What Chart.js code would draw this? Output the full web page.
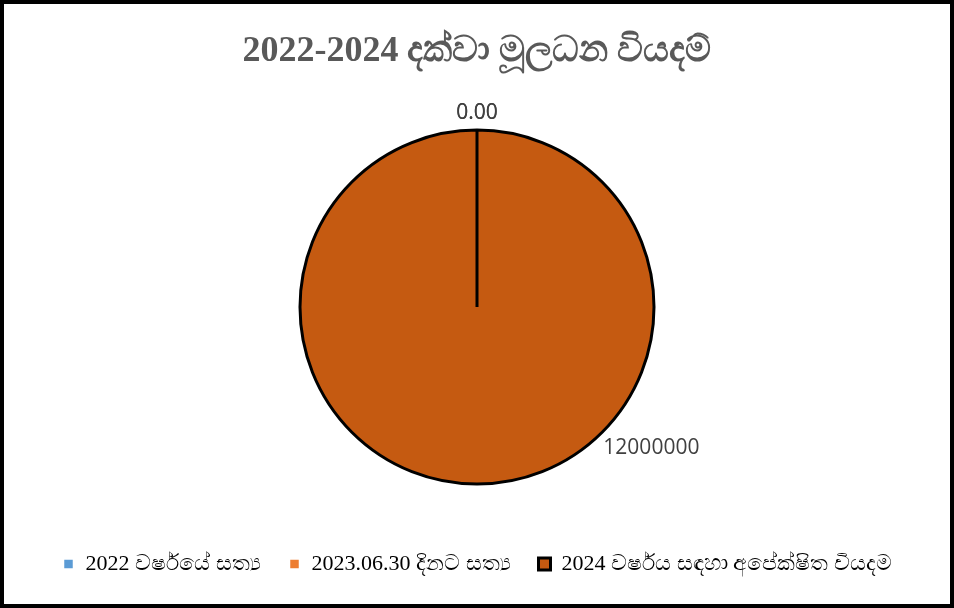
<!DOCTYPE html>
<html>
<head>
<meta charset="utf-8">
<script src="https://cdn.jsdelivr.net/npm/chart.js@4/dist/chart.umd.min.js"></script>
<style>
  html, body { margin: 0; padding: 0; background: #fff; }
  #frame {
    width: 954px; height: 608px; box-sizing: border-box;
    border: 4px solid #000; background: #fff;
  }
  #wrap { position: relative; width: 946px; height: 600px; }
</style>
</head>
<body>
<div id="frame"><div id="wrap"><canvas id="pie"></canvas></div></div>
<script>
const titleText = "2022-2024 දක්වා මූලධන වියදම්";
const categories = [
  "2022 වර්ෂයේ සත්‍ය",
  "2023.06.30 දිනට සත්‍ය",
  "2024 වර්ෂය සඳහා අපේක්ෂිත වියදම"
];
const values = [0, 0, 12000000];
const sliceColors = ["#5B9BD5", "#ED7D31", "#C55A11"];

// excel shows the zero values as 0.00, the big one as a plain integer
const formatValue = v => (v === 0 ? v.toFixed(2) : String(v));

const valueLabels = {
  id: "valueLabels",
  afterDatasetsDraw(chart) {
    const ctx = chart.ctx;
    const meta = chart.getDatasetMeta(0);
    ctx.save();
    ctx.font = "21px 'Open Sans', sans-serif";
    ctx.fillStyle = "#404040";
    ctx.textAlign = "center";
    ctx.textBaseline = "middle";
    meta.data.forEach((arc, i) => {
      const { x, y, startAngle, circumference, outerRadius } = arc.getProps(
        ["x", "y", "startAngle", "circumference", "outerRadius"], true);
      let angle, r;
      if (circumference === 0) {
        angle = startAngle;
        r = outerRadius + 17;
      } else {
        // excel puts the label of the full slice down at the right
        angle = startAngle + circumference * 0.358;
        r = outerRadius + 47;
      }
      ctx.fillText(formatValue(values[i]), x + Math.cos(angle) * r, y + Math.sin(angle) * r);
    });
    ctx.restore();
  }
};

new Chart(document.getElementById("pie"), {
  type: "pie",
  data: {
    labels: categories,
    datasets: [{
      data: values,
      backgroundColor: sliceColors,
      borderColor: "#000",
      borderWidth: 3,
      radius: 177
    }]
  },
  options: {
    responsive: true,
    maintainAspectRatio: false,
    animation: false,
    layout: { padding: { bottom: 19 } },
    plugins: {
      title: {
        display: true,
        text: titleText,
        color: "#595959",
        font: { family: "'Liberation Serif', 'Times New Roman', serif", size: 36, weight: "bold" },
        padding: { top: 26, bottom: 16 }
      },
      tooltip: { enabled: false },
      legend: {
        position: "bottom",
        labels: {
          color: "#595959",
          font: { family: "'Liberation Serif', 'Times New Roman', serif", size: 22 },
          boxWidth: 12,
          boxHeight: 12,
          padding: 28,
          generateLabels(chart) {
            return categories.map((c, i) => ({
              text: c,
              fillStyle: sliceColors[i],
              strokeStyle: i === 2 ? "#000" : "#fff",
              lineWidth: i === 2 ? 3 : 3.5,
              hidden: false,
              index: i
            }));
          }
        }
      }
    }
  },
  plugins: [valueLabels]
});
</script>
</body>
</html>
